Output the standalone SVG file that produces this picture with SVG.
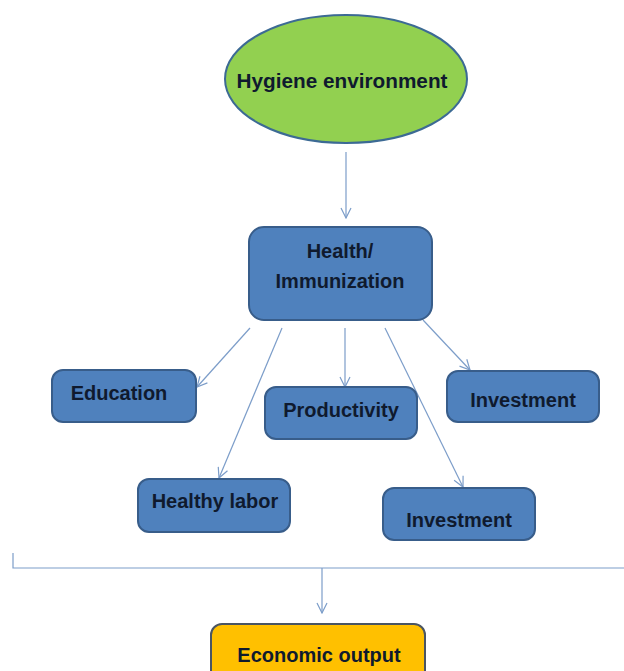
<svg xmlns="http://www.w3.org/2000/svg" width="624" height="671" viewBox="0 0 624 671">
<defs>
<style>
.box{fill:#4F81BD;stroke:#385D8A;stroke-width:2}
.lbl{font-family:"Liberation Sans",Arial,sans-serif;font-weight:bold;font-size:20px;fill:#0f1a2e;text-anchor:middle}
.con{stroke:#7C9DC9;stroke-width:1.2;fill:none}
</style>
<marker id="arr" viewBox="0 0 12 12" refX="11" refY="6" markerWidth="12" markerHeight="12" markerUnits="userSpaceOnUse" orient="auto">
<path d="M1,1 L11,6 L1,11" fill="none" stroke="#7C9DC9" stroke-width="1.2"/>
</marker>
</defs>
<rect width="624" height="671" fill="#ffffff"/>
<g id="connectors">
<line class="con" x1="346" y1="152" x2="346" y2="218" marker-end="url(#arr)"/>
<line class="con" x1="250" y1="328" x2="197" y2="387" marker-end="url(#arr)"/>
<line class="con" x1="282" y1="328" x2="219" y2="478" marker-end="url(#arr)"/>
<line class="con" x1="345" y1="328" x2="345" y2="387" marker-end="url(#arr)"/>
<line class="con" x1="385" y1="328" x2="463" y2="487" marker-end="url(#arr)"/>
<line class="con" x1="423" y1="320" x2="470" y2="370" marker-end="url(#arr)"/>
<path class="con" d="M13,553 V568 H624"/>
<line class="con" x1="322" y1="568" x2="322" y2="613" marker-end="url(#arr)"/>
</g>
<g id="hygiene">
<ellipse cx="346" cy="79" rx="121" ry="64" fill="#92D050" stroke="#3C6A94" stroke-width="2"/>
<text class="lbl" x="342" y="88" textLength="211" lengthAdjust="spacingAndGlyphs">Hygiene environment</text>
</g>
<g id="health">
<rect class="box" x="249" y="227" width="183" height="93" rx="15"/>
<text class="lbl" x="340" y="258">Health/</text>
<text class="lbl" x="340" y="288">Immunization</text>
</g>
<g id="education">
<rect class="box" x="52" y="370" width="144" height="52" rx="11"/>
<text class="lbl" x="119" y="400">Education</text>
</g>
<g id="productivity">
<rect class="box" x="265" y="387" width="152" height="52" rx="11"/>
<text class="lbl" x="341" y="417">Productivity</text>
</g>
<g id="investment1">
<rect class="box" x="447" y="371" width="152" height="51" rx="11"/>
<text class="lbl" x="523" y="407">Investment</text>
</g>
<g id="healthylabor">
<rect class="box" x="138" y="479" width="152" height="53" rx="11"/>
<text class="lbl" x="215" y="508">Healthy labor</text>
</g>
<g id="investment2">
<rect class="box" x="383" y="488" width="152" height="52" rx="11"/>
<text class="lbl" x="459" y="527">Investment</text>
</g>
<g id="economic">
<rect x="211" y="624" width="214" height="62" rx="11" fill="#FFC000" stroke="#4A5563" stroke-width="2"/>
<text class="lbl" x="319" y="662">Economic output</text>
</g>
</svg>
